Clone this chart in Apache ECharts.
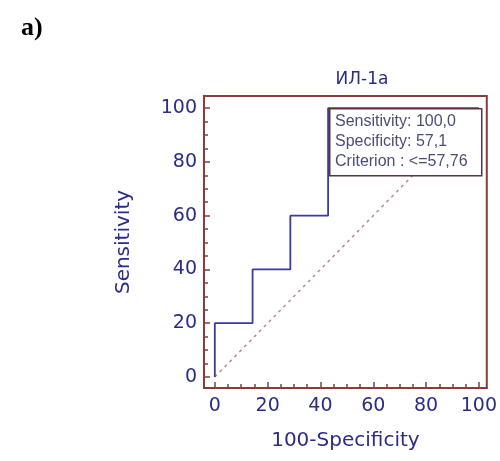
<!DOCTYPE html>
<html>
<head>
<meta charset="utf-8">
<script src="https://cdn.jsdelivr.net/npm/echarts@6/dist/echarts.min.js"></script>
<style>
  html, body { margin: 0; padding: 0; background: #fff; }
  #chart { width: 500px; height: 461px; }
</style>
</head>
<body>
<div id="chart"></div>
<script>
// ROC curve points (100-Specificity, Sensitivity)
const rocX = [0, 0, 14.3, 14.3, 28.6, 28.6, 42.9, 42.9, 100];
const rocY = [0, 20, 20, 40, 40, 60, 60, 100, 100];
// reference diagonal
const diagX = [0, 100];
const diagY = [0, 100];
// ticks
const majorTicks = [0, 20, 40, 60, 80, 100];
const minorTicks = [5, 10, 15, 25, 30, 35, 45, 50, 55, 65, 70, 75, 85, 90, 95];
// texts
const panelLabel = 'a)';
const chartTitle = 'ИЛ-1а';
const xName = '100-Specificity';
const yName = 'Sensitivity';
const cutoffLines = ['Sensitivity: 100,0', 'Specificity: 57,1', 'Criterion : <=57,76'];

const frameColor = '#8a3b3b';
const navy = '#2b2b8a';
const font = 'DejaVu Sans';

const chart = echarts.init(document.getElementById('chart'));

function pairs(xs, ys) {
  return xs.map((x, i) => [x, ys[i]]);
}

function mainAxis(name, min, max, isY) {
  return {
    type: 'value',
    min: min,
    max: max,
    name: name,
    nameLocation: 'middle',
    nameGap: isY ? 70 : 43,
    nameRotate: isY ? 90 : 0,
    nameTextStyle: { color: navy, fontFamily: font, fontSize: 20 },
    axisLine: { show: true, onZero: false, lineStyle: { color: frameColor, width: 2 } },
    axisTick: { show: true, inside: true, length: 6, customValues: majorTicks,
      lineStyle: { color: frameColor, width: 1.5 } },
    axisLabel: { customValues: majorTicks, color: navy, fontFamily: font, fontSize: 19,
      margin: isY ? 7 : 9 },
    splitLine: { show: false }
  };
}

function minorAxis(min, max) {
  return {
    type: 'value',
    min: min,
    max: max,
    axisLine: { show: false, onZero: false },
    axisTick: { show: true, inside: true, length: 4, customValues: minorTicks,
      lineStyle: { color: frameColor, width: 1.5 } },
    axisLabel: { show: false },
    splitLine: { show: false }
  };
}

const xMain = mainAxis(xName, -4.1, 103, false);
xMain.position = 'bottom';
const xMinor = minorAxis(-4.1, 103);
xMinor.position = 'bottom';
const yMain = mainAxis(yName, -4.1, 104.5, true);
yMain.position = 'left';
const yMinor = minorAxis(-4.1, 104.5);
yMinor.position = 'left';

const boxLeft = 329, boxTop = 108;

chart.setOption({
  animation: false,
  title: [
    { text: panelLabel, left: 16, top: 10,
      textStyle: { fontFamily: 'Liberation Serif', fontWeight: 'bold', fontSize: 26, color: '#000' } },
    { text: chartTitle, left: 357, top: 66, textAlign: 'center',
      textStyle: { fontFamily: font, fontWeight: 'normal', fontSize: 17, color: navy } }
  ],
  grid: {
    left: 204, right: 9, top: 96, bottom: 73,
    show: true, borderColor: frameColor, borderWidth: 2, backgroundColor: '#fff'
  },
  xAxis: [xMain, xMinor],
  yAxis: [yMain, yMinor],
  series: [
    {
      type: 'line',
      data: pairs(diagX, diagY),
      symbol: 'none',
      lineStyle: { color: '#b88a8a', width: 1.5, type: [3, 4] },
      z: 1
    },
    {
      type: 'line',
      data: pairs(rocX, rocY),
      symbol: 'none',
      lineStyle: { color: '#3a3aa6', width: 1.8 },
      z: 2
    }
  ],
  graphic: [
    {
      type: 'rect', left: boxLeft, top: boxTop, z: 100,
      shape: { width: 152, height: 67 },
      style: { fill: '#fff', stroke: '#5b3448', lineWidth: 1.5 }
    }
  ].concat(cutoffLines.map((t, i) => ({
    type: 'text', left: boxLeft + 6, top: boxTop + 6 + i * 20, z: 101,
    style: { text: t, fill: '#4c4c78', font: '16px "Liberation Sans"' }
  })))
});
</script>
</body>
</html>
